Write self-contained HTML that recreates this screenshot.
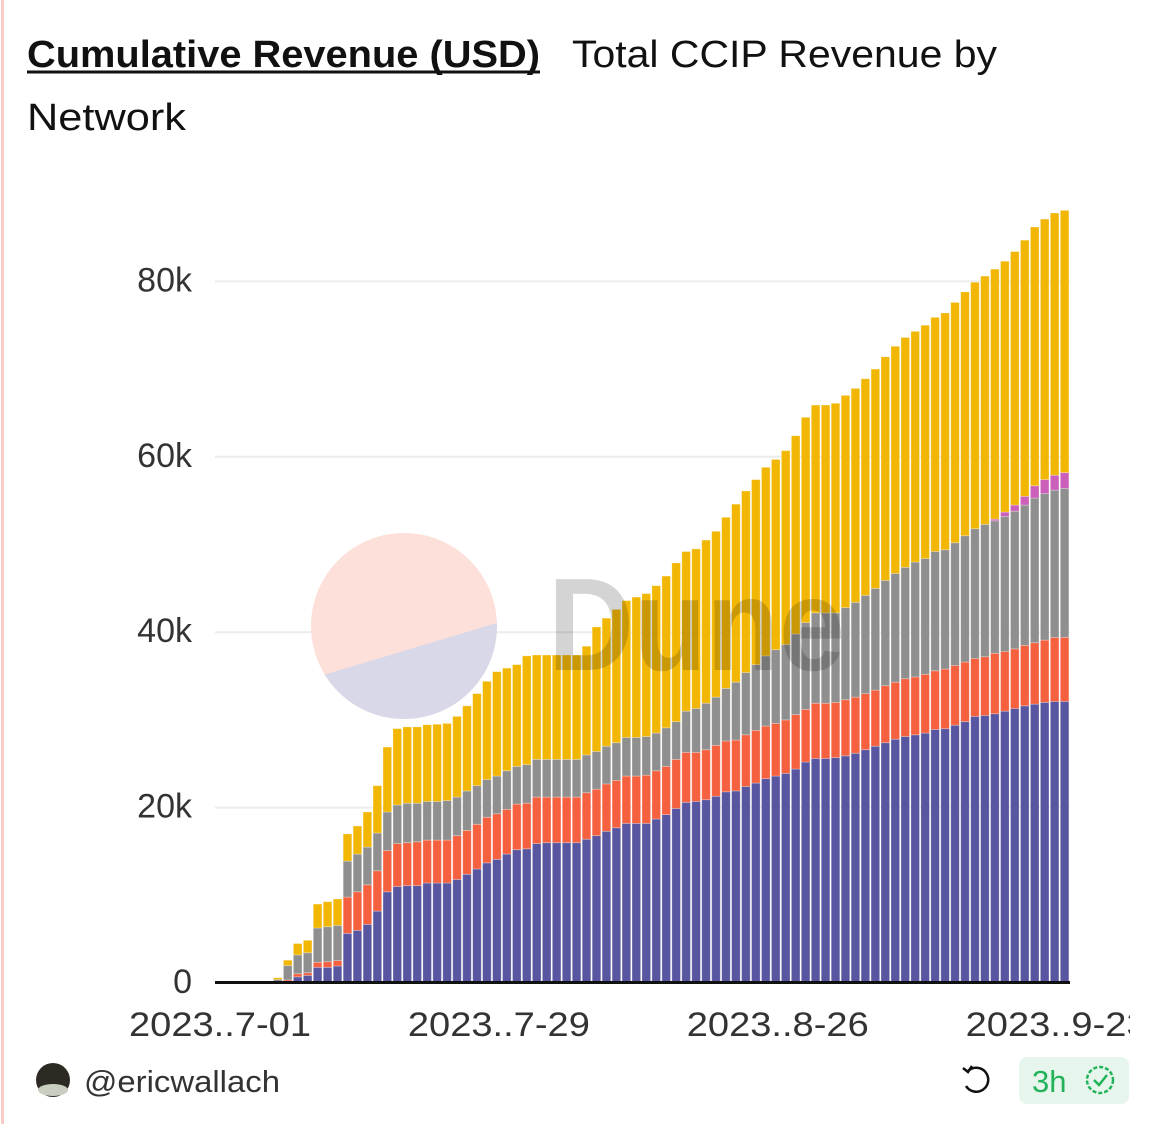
<!DOCTYPE html>
<html><head><meta charset="utf-8"><style>
html,body{margin:0;padding:0;background:#fff;width:1160px;height:1124px;overflow:hidden;font-family:"Liberation Sans",sans-serif;}
svg{display:block}
</style></head><body>
<svg id="chart" width="1160" height="1124" viewBox="0 0 1160 1124" xmlns="http://www.w3.org/2000/svg">
<rect x="1" y="0" width="3" height="1124" fill="#f9cdc6"/>
<text x="27" y="67" font-size="38" font-weight="bold" fill="#111" textLength="513" lengthAdjust="spacingAndGlyphs">Cumulative Revenue (USD)</text>
<line x1="27" y1="72" x2="540" y2="72" stroke="#111" stroke-width="3"/>
<text x="572" y="67" font-size="38" fill="#111" textLength="425" lengthAdjust="spacingAndGlyphs">Total CCIP Revenue by</text>
<text x="27" y="130" font-size="38" fill="#111" textLength="159" lengthAdjust="spacingAndGlyphs">Network</text>
<g id="grid"></g>
<g id="wm">
  <clipPath id="cc"><circle cx="404" cy="626" r="93"/></clipPath>
  <g clip-path="url(#cc)">
    <rect x="300" y="520" width="210" height="210" fill="#fde0da"/>
    <polygon points="300,682 510,619 510,730 300,730" fill="#d8d8e8"/>
  </g>
</g>
<g id="bars"></g>
<text x="548" y="670" font-size="132" font-weight="bold" fill="#000" fill-opacity="0.17" textLength="297" lengthAdjust="spacingAndGlyphs">Dune</text>
<rect x="215" y="981" width="855" height="3" fill="#111"/>
<g id="yticks"></g>
<svg x="0" y="990" width="1130" height="60" overflow="hidden"><g id="xticks"></g></svg>
<circle cx="53" cy="1080" r="17" fill="#2c2a22"/>
<ellipse cx="53" cy="1090" rx="15" ry="6" fill="#c9cfc0"/>
<text x="84" y="1092" font-size="31" fill="#333" textLength="196" lengthAdjust="spacingAndGlyphs">@ericwallach</text>
<g fill="none" stroke="#111" stroke-width="2.5">
  <path d="M968 1071 A12 12 0 1 1 966 1086"/>
  <path d="M963 1068 L968 1072 L972 1066"/>
</g>
<rect x="1019" y="1057" width="110" height="47" rx="8" fill="#e6f6ec"/>
<text x="1032" y="1092" font-size="31" fill="#22b35a">3h</text>
<g fill="none" stroke="#22b35a" stroke-width="2.5">
  <circle cx="1100" cy="1080" r="13" stroke-dasharray="4 2"/>
  <path d="M1094 1080 L1099 1085 L1107 1075"/>
</g>
</svg>
<script>
const categories = [];
for (let d = 1; d <= 31; d++) categories.push('2023-07-' + String(d).padStart(2,'0'));
for (let d = 1; d <= 31; d++) categories.push('2023-08-' + String(d).padStart(2,'0'));
for (let d = 1; d <= 24; d++) categories.push('2023-09-' + String(d).padStart(2,'0'));
const seriesBlue = [0,0,0,0,0,0,0.1,0.15,0.7,0.87,1.79,1.79,1.94,5.66,6.0,6.69,8.2,10.4,11.0,11.1,11.1,11.4,11.4,11.4,11.8,12.4,13.0,13.7,14.1,14.7,15.2,15.3,15.9,16.0,16.0,16.0,16.0,16.4,16.8,17.3,17.7,18.2,18.2,18.2,18.7,19.2,19.9,20.6,20.7,20.9,21.3,21.8,21.9,22.4,22.8,23.3,23.6,23.9,24.4,25.2,25.6,25.6,25.7,25.9,26.2,26.6,27.0,27.4,27.8,28.1,28.3,28.5,28.9,29.0,29.4,29.8,30.4,30.5,30.7,31.0,31.3,31.6,31.8,32.0,32.1,32.1];
const seriesRed = [0,0,0,0,0,0,0,0.2,0.36,0.3,0.57,0.64,0.61,4.14,4.4,4.51,4.6,4.7,4.9,4.9,5.0,4.9,4.9,4.9,5.0,5.0,5.1,5.2,5.2,5.1,5.2,5.2,5.3,5.2,5.2,5.2,5.2,5.3,5.3,5.4,5.4,5.4,5.4,5.5,5.5,5.5,5.6,5.7,5.6,5.7,5.8,5.8,5.8,5.9,6.0,6.0,6.0,6.1,6.2,6.0,6.3,6.3,6.3,6.4,6.4,6.4,6.4,6.5,6.5,6.6,6.6,6.7,6.7,6.8,6.8,6.8,6.6,6.7,6.9,6.8,6.8,6.9,7.0,7.1,7.3,7.3];
const seriesGray = [0,0,0,0,0,0,0.3,1.65,2.14,2.28,3.91,3.99,4.02,4.1,4.3,4.3,4.3,4.4,4.4,4.5,4.4,4.4,4.4,4.5,4.4,4.5,4.4,4.3,4.3,4.4,4.3,4.4,4.3,4.3,4.3,4.3,4.3,4.3,4.3,4.3,4.3,4.4,4.4,4.4,4.3,4.4,4.3,4.7,5.0,5.3,5.5,6.0,6.6,7.1,7.5,8.0,8.4,8.6,9.2,9.9,10.3,10.3,10.2,10.5,10.8,11.2,11.6,12.0,12.4,12.7,13.1,13.2,13.6,13.6,14.0,14.4,14.8,15.1,15.1,15.4,15.7,16.0,16.5,16.7,16.8,17.0];
const seriesMagenta = [0,0,0,0,0,0,0,0,0,0,0,0,0,0,0,0,0,0,0,0,0,0,0,0,0,0,0,0,0,0,0,0,0,0,0,0,0,0,0,0,0,0,0,0,0,0,0,0,0,0,0,0,0,0,0,0,0,0,0,0,0,0,0,0,0,0,0,0,0,0,0,0,0,0,0,0,0,0,0.2,0.5,0.7,1.0,1.4,1.6,1.7,1.8];
const seriesYellow = [0,0,0,0,0,0,0.2,0.6,1.3,1.42,2.73,2.85,3.01,3.1,3.2,4.0,5.4,7.4,8.7,8.7,8.7,8.75,8.8,8.8,9.2,9.7,10.5,11.2,11.9,11.7,11.6,12.4,11.9,11.9,11.9,11.9,11.9,12.4,14.2,14.6,15.2,15.6,16.0,16.3,16.8,17.3,18.1,18.2,18.2,18.6,18.9,19.5,20.3,20.7,21.1,21.5,21.7,22.1,22.6,23.4,23.7,23.7,23.9,24.2,24.4,24.7,25.0,25.5,25.9,26.2,26.3,26.6,26.7,27.0,27.4,27.8,28.1,28.3,28.5,28.6,28.9,29.2,29.5,29.7,29.9,29.9];
const yTicks = [0,20,40,60,80];
const yTickLabels = ['0','20k','40k','60k','80k'];
const xTickIndices = [0,28,56,84];
const xTickLabels = ['2023..7-01','2023..7-29','2023..8-26','2023..9-23'];

const NS = 'http://www.w3.org/2000/svg';
const y0 = 983, pxPerK = 8.77, x0 = 218, step = 9.96, bw = 8.6;
function yScale(v){ return y0 - v * pxPerK; }
function xScale(i){ return x0 + step * i; }

const grid = document.getElementById('grid');
const yt = document.getElementById('yticks');
yTicks.forEach((t, k) => {
  if (t > 0) {
    const l = document.createElementNS(NS, 'line');
    l.setAttribute('x1', 215); l.setAttribute('x2', 1070);
    l.setAttribute('y1', yScale(t)); l.setAttribute('y2', yScale(t));
    l.setAttribute('stroke', '#ececec'); l.setAttribute('stroke-width', 2);
    
    
    grid.appendChild(l);
  }
  const tx = document.createElementNS(NS, 'text');
  tx.setAttribute('x', 192); tx.setAttribute('y', yScale(t) + 10);
  tx.setAttribute('text-anchor', 'end'); tx.setAttribute('font-size', 34); tx.setAttribute('fill', '#333');
  tx.textContent = yTickLabels[k];
  
  
  yt.appendChild(tx);
});
const xt = document.getElementById('xticks');
xTickIndices.forEach((idx, k) => {
  const tx = document.createElementNS(NS, 'text');
  tx.setAttribute('x', xScale(idx) - 89); tx.setAttribute('y', 46);
  tx.setAttribute('font-size', 34); tx.setAttribute('fill', '#333');
  tx.setAttribute('textLength', 182); tx.setAttribute('lengthAdjust', 'spacingAndGlyphs');
  tx.textContent = xTickLabels[k];
  
  
  xt.appendChild(tx);
});

const series = [
  {vals: seriesBlue, color: '#5856a0', name: 'bar-blue'},
  {vals: seriesRed, color: '#f5613f', name: 'bar-red'},
  {vals: seriesGray, color: '#8f8f8f', name: 'bar-gray'},
  {vals: seriesMagenta, color: '#cc5fba', name: 'bar-magenta'},
  {vals: seriesYellow, color: '#f2b705', name: 'bar-yellow'}
];
const bars = document.getElementById('bars');
categories.forEach((c, i) => {
  let base = 0;
  series.forEach(s => {
    const v = s.vals[i] || 0;
    if (v <= 0) return;
    const r = document.createElementNS(NS, 'rect');
    r.setAttribute('x', xScale(i) - bw / 2);
    r.setAttribute('y', yScale(base + v));
    r.setAttribute('width', bw);
    r.setAttribute('height', v * pxPerK);
    r.setAttribute('fill', s.color);
    r.setAttribute('stroke', 'rgba(255,255,255,0.35)');
    r.setAttribute('stroke-width', 0.8);
    
    
    bars.appendChild(r);
    base += v;
  });
});
</script>
</body></html>
